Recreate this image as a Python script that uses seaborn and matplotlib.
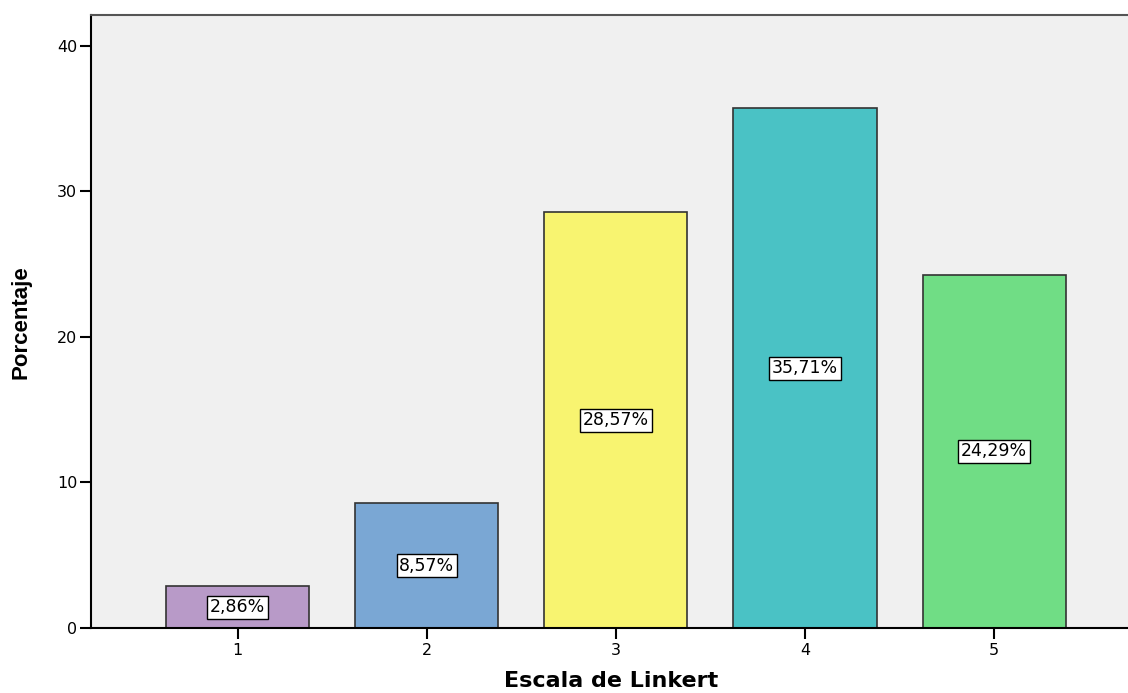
import matplotlib
matplotlib.use("Agg")
import matplotlib.pyplot as plt
import seaborn as sns
import pandas as pd

categories = ["1", "2", "3", "4", "5"]
values = [2.86, 8.57, 28.57, 35.71, 24.29]
labels = ["2,86%", "8,57%", "28,57%", "35,71%", "24,29%"]
colors = ["#b89ac8", "#7aa7d4", "#f8f470", "#4ac2c5", "#70dd85"]

df = pd.DataFrame({"cat": categories, "val": values})

sns.set_style("white")
plt.rcParams['font.family'] = ['DejaVu Sans']

fig = plt.figure(figsize=(11.28, 6.93), dpi=100)
ax = fig.add_axes([0.0807, 0.0938, 0.9193 + 0.002, 0.884])
ax.set_facecolor("#f0f0f0")

sns.barplot(data=df, x="cat", y="val", hue="cat", palette=colors, legend=False,
            width=0.757, edgecolor="#333333", linewidth=1.2, ax=ax, saturation=1)

for i, (v, lab) in enumerate(zip(values, labels)):
    ax.text(i, v / 2, lab, ha="center", va="center", fontsize=12.5, color="black",
            bbox=dict(boxstyle="square,pad=0.15", facecolor="white", edgecolor="black", linewidth=1))

ax.set_xlim(-0.775, 4.72)
ax.set_ylim(0, 42.1)
ax.set_yticks([0, 10, 20, 30, 40])
ax.tick_params(axis="both", direction="out", length=8, width=1.5, labelsize=11.5,
               colors="black", bottom=True, left=True, pad=2)
ax.tick_params(axis="x", pad=3)
ax.set_xlabel("Escala de Linkert", fontsize=16, fontweight="bold", labelpad=9, color="black")
ax.set_ylabel("Porcentaje", fontsize=16, fontweight="bold", labelpad=18, color="black",
              family="Liberation Sans")

for s in ["left", "bottom"]:
    ax.spines[s].set_color("black")
    ax.spines[s].set_linewidth(1.5)
ax.spines["top"].set_color("#555555")
ax.spines["top"].set_linewidth(1.5)
ax.spines["right"].set_visible(False)

fig.savefig("out.png", dpi=100, facecolor="white")
